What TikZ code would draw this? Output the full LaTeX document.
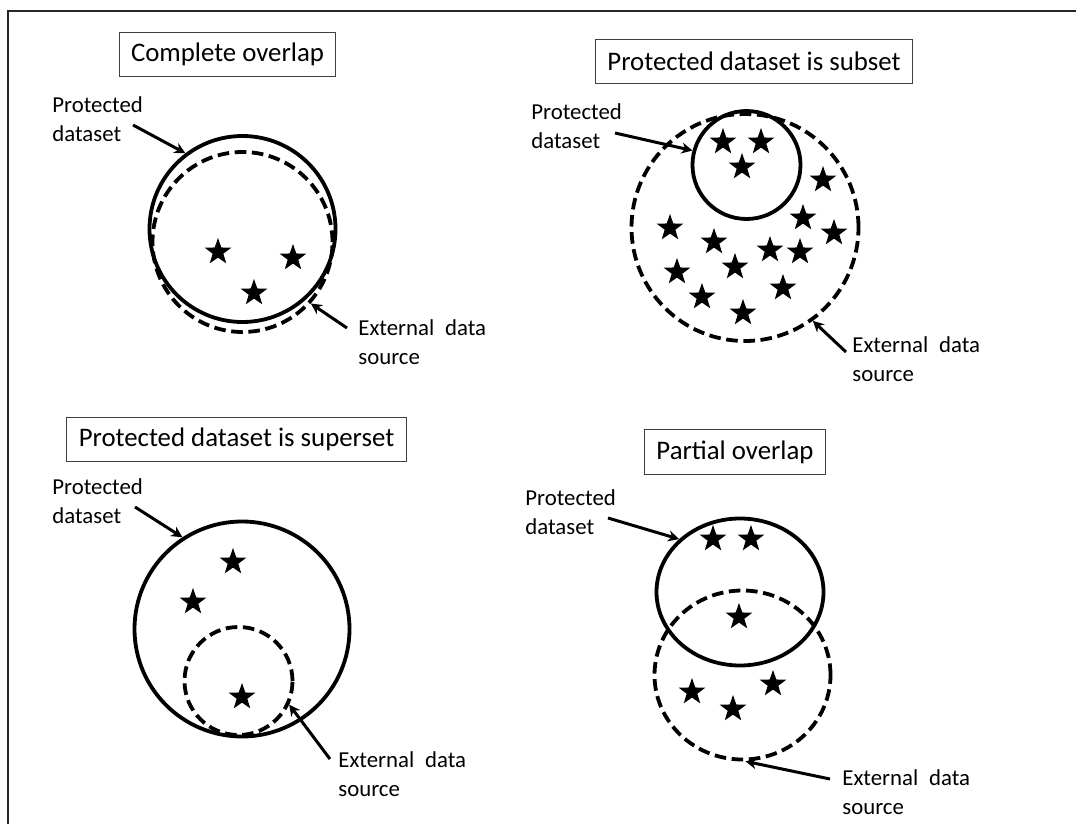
\documentclass[tikz,border=0pt]{standalone}
\usepackage{fontspec}
\setmainfont{Carlito}
\usepackage{tikz}
\usetikzlibrary{shapes.geometric}
\usetikzlibrary{arrows.meta}

\newcommand{\ttlfont}{\fontsize{13.4}{16}\selectfont}
\newcommand{\labfont}{\fontsize{11.4}{14.5}\selectfont}

\tikzset{
  ttl/.style={draw=black!75, line width=0.5pt, inner xsep=6pt, inner ysep=0pt, minimum height=22.2pt, font=\ttlfont},
  lab/.style={align=left, anchor=north west, inner sep=0pt, font=\labfont},
  ring/.style={circle, draw=black, line width=1.9pt, inner sep=0pt},
  dring/.style={ring, dash pattern=on 5.8pt off 2.8pt},
  starmark/.style={star, star points=5, star point ratio=2.5, fill=black, draw=none, inner sep=0pt, minimum size=14pt},
  pointer/.style={line width=1.5pt, -{Stealth[length=5.5pt,width=5.5pt]}}
}

\begin{document}
\begin{tikzpicture}[x=0.5pt,y=0.5pt]
    \useasboundingbox (0,0) rectangle (1076,-824);

    % The frame
    \coordinate (f0) at (8,-824);
    \coordinate (f1) at (8,-11);
    \coordinate (f2) at (1076,-11);
    \draw[black!85, line width=1pt] (f0) -- (f1) -- (f2);

    % Complete overlap
    \node[ttl] (t1) at (227.5,-54.5) {Complete overlap};
    \node[ring, minimum size=93pt] (pd1) at (242.5,-229) {};
    \node[dring, minimum size=90pt] (ed1) at (242.5,-242) {};
    \foreach \p [count=\i] in {(218,-252),(293,-258),(254,-293)}
        \node[starmark] (s1\i) at \p {};
    \node[lab] (lp1) at (52,-96) {Protected\\dataset};
    \node[lab] (le1) at (358,-319) {External\hspace{0.25em} data\\source};
    \coordinate (a1) at (133,-125);
    \coordinate (b1) at (347,-328);
    \draw[pointer] (a1) -- (pd1.127);
    \draw[pointer] (b1) -- (ed1.-42);

    % Protected dataset is subset
    \node[ttl] (t2) at (754,-61.5) {Protected dataset is subset};
    \node[ring, minimum size=54pt] (pd2) at (746.5,-165) {};
    \node[dring, minimum size=113.5pt] (ed2) at (745,-227.5) {};
    \foreach \p [count=\i] in {(723,-142),(761,-142),(742,-167),(823,-180),(670,-228),
                              (803,-218),(834,-233),(714,-242),(770,-250),(800,-252),
                              (677,-272),(735,-267),(702,-297),(783,-288),(743,-313)}
        \node[starmark] (s2\i) at \p {};
    \node[lab] (lp2) at (531,-103) {Protected\\dataset};
    \node[lab] (le2) at (852,-336) {External\hspace{0.25em} data\\source};
    \coordinate (a2) at (615,-133);
    \coordinate (b2) at (846,-352);
    \draw[pointer] (a2) -- (pd2.165);
    \draw[pointer] (b2) -- (ed2.-54);

    % Protected dataset is superset
    \node[ttl] (t3) at (236.5,-439.5) {Protected dataset is superset};
    \node[ring, minimum size=107.5pt] (pd3) at (242,-629) {};
    \node[dring, minimum size=54pt] (ed3) at (238.5,-681) {};
    \foreach \p [count=\i] in {(233,-562),(193,-602),(242,-697)}
        \node[starmark] (s3\i) at \p {};
    \node[lab] (lp3) at (52,-478) {Protected\\dataset};
    \node[lab] (le3) at (338,-751.5) {External\hspace{0.25em} data\\source};
    \coordinate (a3) at (135,-507);
    \coordinate (b3) at (330,-759);
    \draw[pointer] (a3) -- (pd3.123);
    \draw[pointer] (b3) -- (ed3.-25);

    % Partial overlap
    \node[ttl] (t4) at (735,-452) {Partial overlap};
    \node[ring, ellipse, minimum width=83.5pt, minimum height=73.5pt] (pd4) at (740,-592) {};
    \node[dring, ellipse, minimum width=88pt, minimum height=84.5pt] (ed4) at (742.5,-675) {};
    \foreach \p [count=\i] in {(713,-539),(751,-539),(739,-617),(692,-692),(773,-684),(733,-709)}
        \node[starmark] (s4\i) at \p {};
    \node[lab] (lp4) at (525,-489) {Protected\\dataset};
    \node[lab] (le4) at (842,-769) {External\hspace{0.25em} data\\source};
    \coordinate (a4) at (608,-518);
    \coordinate (b4) at (830,-779);
    \draw[pointer] (a4) -- (pd4.139);
    \draw[pointer] (b4) -- (ed4.-88);
\end{tikzpicture}
\end{document}
